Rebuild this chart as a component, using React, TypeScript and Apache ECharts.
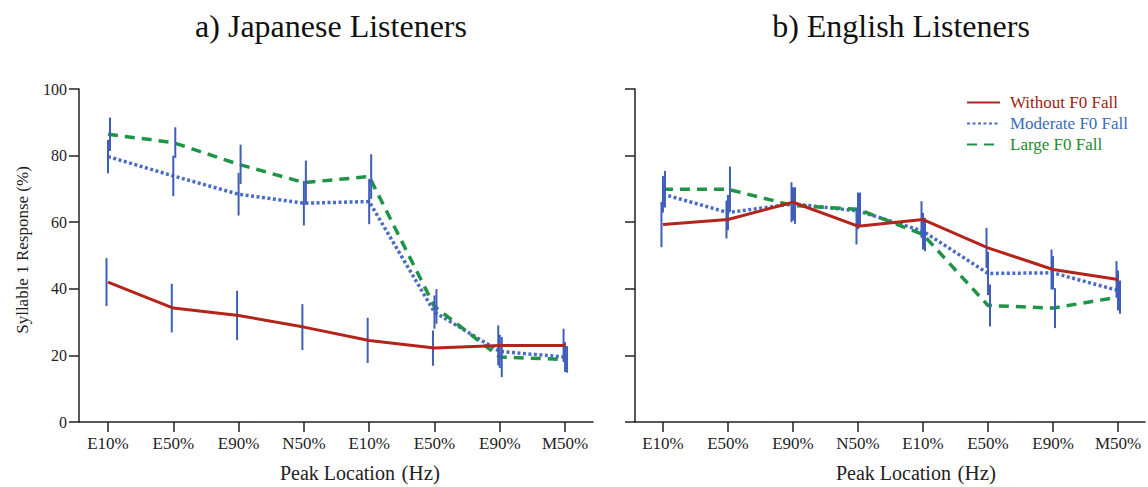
import React, { useEffect, useRef } from "react";
import * as echarts from "echarts";

// Peak-location conditions shown along both x-axes
const CATEGORIES = ["E10%", "E50%", "E90%", "N50%", "E10%", "E50%", "E90%", "M50%"];
const SERIES_NAMES = ["Without F0 Fall", "Moderate F0 Fall", "Large F0 Fall"];

// a) Japanese listeners: mean syllable-1 response (%) and error half-widths
const JP_WITHOUT = [42, 34.2, 32, 28.5, 24.5, 22.2, 23, 23];
const JP_WITHOUT_ERR = [7.2, 7.3, 7.4, 6.9, 6.8, 5.3, 6, 5];
const JP_MODERATE = [79.7, 73.9, 68.4, 65.7, 66.2, 33, 21.2, 19.5];
const JP_MODERATE_ERR = [5, 6.1, 6.4, 6.7, 6.8, 5, 5, 4.5];
const JP_LARGE = [86.4, 83.9, 77.4, 71.9, 73.7, 34.7, 19.5, 18.8];
const JP_LARGE_ERR = [5, 4.6, 5.9, 6.6, 6.7, 5.2, 6, 4];

// b) English listeners
const EN_WITHOUT = [59.3, 60.8, 66, 58.8, 60.8, 52.3, 45.8, 42.8];
const EN_WITHOUT_ERR = [6.8, 5.7, 6, 5.5, 5.5, 6, 6, 5.5];
const EN_MODERATE = [68.4, 62.9, 65.5, 63.4, 57.3, 44.6, 44.8, 39.5];
const EN_MODERATE_ERR = [5.5, 5.3, 5, 5.5, 5.5, 6.5, 5, 6];
const EN_LARGE = [69.9, 69.9, 65, 63.9, 56.3, 35, 34.2, 37.5];
const EN_LARGE_ERR = [5.5, 6.8, 5.5, 5, 5, 6.3, 6, 5];

const FONT = "'Liberation Serif', 'Times New Roman', serif";
const AXIS_COLOR = "#222";
const TEXT_COLOR = "#222";
const BAR_COLOR = "#3f5dbb";
const TICK_LENGTH = 10;

const LINE_STYLES = [
  { color: "#b3241b", width: 3, type: "solid" as any, z: 4 },
  { color: "#4b6cc6", width: 3.5, type: [3, 2.5] as any, z: 2 },
  { color: "#1f9447", width: 3.5, type: [10, 7] as any, z: 2 },
];
const LEGEND_TEXT_COLORS = ["#9c1d12", "#3a6cb5", "#23892c"];
// small horizontal pixel nudge so overlapping error bars stay visible
const BAR_NUDGE = [-1.5, 0, 2];

function lineSeries(name: string, values: number[], idx: number, axis: number) {
  const s = LINE_STYLES[idx];
  return {
    type: "line",
    name,
    xAxisIndex: axis,
    yAxisIndex: axis,
    data: values.map((v, i) => [i, v]),
    symbol: "none",
    z: s.z,
    lineStyle: { color: s.color, width: s.width, type: s.type, cap: "butt" },
    itemStyle: { color: s.color },
  };
}

function errorSeries(name: string, values: number[], errs: number[], idx: number, axis: number) {
  const nudge = BAR_NUDGE[idx];
  return {
    type: "custom",
    name: `${name} error`,
    xAxisIndex: axis,
    yAxisIndex: axis,
    z: 3,
    silent: true,
    data: values.map((v, i) => [i, v - errs[i], v + errs[i]]),
    renderItem: (_params: any, api: any) => {
      const x = api.value(0);
      const lo = api.coord([x, api.value(1)]);
      const hi = api.coord([x, api.value(2)]);
      return {
        type: "line",
        shape: { x1: lo[0] + nudge, y1: lo[1], x2: hi[0] + nudge, y2: hi[1] },
        style: { stroke: BAR_COLOR, lineWidth: 2 },
      };
    },
  };
}

function xAxisFor(gridIndex: number, min: number, max: number) {
  const ticks = CATEGORIES.map((_, i) => i);
  return {
    type: "value",
    gridIndex,
    min,
    max,
    splitLine: { show: false },
    axisLine: { show: true, onZero: false, lineStyle: { color: AXIS_COLOR, width: 1.5 } },
    axisTick: { show: true, length: TICK_LENGTH, customValues: ticks, lineStyle: { color: AXIS_COLOR, width: 1.5 } },
    axisLabel: {
      customValues: ticks,
      margin: 13,
      color: TEXT_COLOR,
      fontFamily: FONT,
      fontSize: 17,
      formatter: (v: number) => CATEGORIES[Math.round(v)] ?? "",
    },
  };
}

function yAxisFor(gridIndex: number, showLabels: boolean) {
  return {
    type: "value",
    gridIndex,
    min: 0,
    max: 100,
    interval: 20,
    splitLine: { show: false },
    axisLine: { show: true, onZero: false, lineStyle: { color: AXIS_COLOR, width: 1.5 } },
    axisTick: { show: true, length: TICK_LENGTH, lineStyle: { color: AXIS_COLOR, width: 1.5 } },
    axisLabel: {
      show: showLabels,
      margin: 12,
      color: TEXT_COLOR,
      fontFamily: FONT,
      fontSize: 16,
    },
  };
}

export default function App() {
  const ref = useRef<HTMLDivElement>(null);

  useEffect(() => {
    if (!ref.current) return;
    const chart = echarts.init(ref.current, undefined, { renderer: "svg" });

    const titleStyle = { fill: "#111", font: `32px ${FONT}`, textAlign: "center", textVerticalAlign: "middle" };
    const xNameRich = {
      rich: {
        a: { fontFamily: FONT, fontSize: 20, fill: TEXT_COLOR },
        b: { fontFamily: FONT, fontSize: 21, fill: TEXT_COLOR },
      },
    };

    chart.setOption({
      animation: false,
      backgroundColor: "#fff",
      grid: [
        { left: 79, top: 89, width: 514, height: 333 },
        { left: 635, top: 89, width: 510, height: 333 },
      ],
      xAxis: [xAxisFor(0, -0.444, 7.428), xAxisFor(1, -0.43, 7.415)],
      yAxis: [yAxisFor(0, true), yAxisFor(1, false)],
      legend: {
        orient: "vertical",
        left: 961,
        top: 89,
        itemWidth: 33,
        itemHeight: 14,
        itemGap: 4,
        itemStyle: { color: "rgba(0,0,0,0)", borderColor: "rgba(0,0,0,0)", borderWidth: 0 },
        textStyle: { fontFamily: FONT, fontSize: 17, padding: [0, 0, 0, 5] },
        data: SERIES_NAMES.map((name, i) => ({ name, textStyle: { color: LEGEND_TEXT_COLORS[i] } })),
      },
      graphic: [
        { type: "text", x: 331, y: 26, style: { ...titleStyle, text: "a) Japanese Listeners" } },
        { type: "text", x: 901, y: 26, style: { ...titleStyle, text: "b) English Listeners" } },
        {
          type: "text",
          x: 360,
          y: 473,
          style: { text: "{a|Peak Location}  {b|(Hz)}", textAlign: "center", textVerticalAlign: "middle", ...xNameRich },
        },
        {
          type: "text",
          x: 916,
          y: 473,
          style: { text: "{a|Peak Location}  {b|(Hz)}", textAlign: "center", textVerticalAlign: "middle", ...xNameRich },
        },
        {
          type: "text",
          x: 22,
          y: 250,
          rotation: Math.PI / 2,
          style: {
            text: "Syllable 1 Response (%)",
            font: `17px ${FONT}`,
            fill: TEXT_COLOR,
            textAlign: "center",
            textVerticalAlign: "middle",
          },
        },
      ],
      series: [
        lineSeries(SERIES_NAMES[1], JP_MODERATE, 1, 0),
        lineSeries(SERIES_NAMES[2], JP_LARGE, 2, 0),
        lineSeries(SERIES_NAMES[0], JP_WITHOUT, 0, 0),
        errorSeries(SERIES_NAMES[0], JP_WITHOUT, JP_WITHOUT_ERR, 0, 0),
        errorSeries(SERIES_NAMES[1], JP_MODERATE, JP_MODERATE_ERR, 1, 0),
        errorSeries(SERIES_NAMES[2], JP_LARGE, JP_LARGE_ERR, 2, 0),
        lineSeries(SERIES_NAMES[1], EN_MODERATE, 1, 1),
        lineSeries(SERIES_NAMES[2], EN_LARGE, 2, 1),
        lineSeries(SERIES_NAMES[0], EN_WITHOUT, 0, 1),
        errorSeries(SERIES_NAMES[0], EN_WITHOUT, EN_WITHOUT_ERR, 0, 1),
        errorSeries(SERIES_NAMES[1], EN_MODERATE, EN_MODERATE_ERR, 1, 1),
        errorSeries(SERIES_NAMES[2], EN_LARGE, EN_LARGE_ERR, 2, 1),
      ],
    });

    return () => chart.dispose();
  }, []);

  return (
    <div
      ref={ref}
      style={{ position: "fixed", left: 0, top: 0, width: 1148, height: 487, background: "#fff" }}
    />
  );
}
